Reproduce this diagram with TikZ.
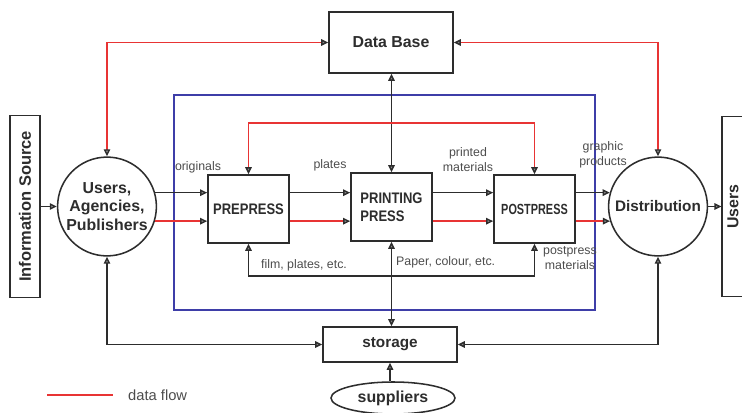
\documentclass[tikz,border=0pt]{standalone}
\usepackage{fontspec}
\setmainfont{Liberation Sans}
\newfontfamily\narrowsans[FakeStretch=0.85]{Liberation Sans}
\newfontfamily\narrowersans[FakeStretch=0.74]{Liberation Sans}
\usetikzlibrary{arrows.meta,shapes.geometric}
\definecolor{flowred}{RGB}{232,52,52}
\definecolor{frameblue}{RGB}{62,62,168}
\definecolor{ink}{RGB}{45,45,45}
\tikzset{
  hd/.tip={Triangle[length=6pt,width=5.5pt,color=ink,fill=ink!55]},
  box/.style={draw=ink, line width=1.3pt, fill=white, text=ink, inner sep=0pt, align=center},
  ring/.style={circle, draw=ink, line width=1.3pt, fill=white, text=ink, align=center,
    inner sep=0pt, minimum size=84pt},
  conn/.style={draw=ink, line width=1.2pt},
  dflow/.style={draw=flowred, line width=1.2pt},
  lbl/.style={text=ink!85, font=\fontsize{10.5}{12.8}\selectfont, align=center, inner sep=0pt},
}
\begin{document}
\begin{tikzpicture}[x=0.85pt,y=-0.85pt]
\useasboundingbox (0,0) rectangle (742,413);

% process frame
\draw[frameblue, line width=1.5pt] (174,95) rectangle (595,310);

% nodes
\node[box, minimum width=105.4pt, minimum height=51.9pt,
      font=\bfseries\fontsize{13.5}{15}\selectfont] (db) at (391,42.5) {Data Base};
\node[box, rotate=90, minimum width=154.7pt, minimum height=25.5pt,
      font=\bfseries\fontsize{14}{16}\selectfont] (info) at (25,206.5) {Information Source};
\node[ring, font=\bfseries\fontsize{13.5}{16}\selectfont] (users) at (107,206.5)
      {Users,\\Agencies,\\Publishers};
\node[box, minimum width=68.9pt, minimum height=57.8pt,
      font=\narrowsans\bfseries\fontsize{13}{15.3}\selectfont] (pre) at (248.5,209) {PREPRESS};
\node[box, minimum width=68.9pt, minimum height=57.8pt, align=left,
      font=\narrowsans\bfseries\fontsize{13}{15.3}\selectfont] (print) at (391.5,207) {PRINTING\\PRESS};
\node[box, minimum width=68.9pt, minimum height=57.8pt,
      font=\narrowersans\bfseries\fontsize{12.5}{15}\selectfont] (post) at (534.5,209) {POSTPRESS};
\node[ring, font=\bfseries\fontsize{13}{15}\selectfont] (dist) at (658,206.5) {Distribution};
% end users box runs past the right edge; its label sits near the left side
\node[box, rotate=90, minimum width=153pt, minimum height=32pt] (ubox) at (741,206.5) {};
\node[rotate=90, text=ink, inner sep=0pt,
      font=\bfseries\fontsize{13.5}{16}\selectfont] (utext) at (733,206.5) {Users};
\node[box, minimum width=113.9pt, minimum height=29.75pt,
      font=\bfseries\fontsize{13}{15}\selectfont] (store) at (390,344.5) {storage};
\node[ellipse, draw=ink, line width=1.3pt, fill=white, text=ink, inner sep=0pt,
      minimum width=105.4pt, minimum height=27.2pt,
      font=\bfseries\fontsize{13.5}{15}\selectfont] (supp) at (393,398) {suppliers};

% rails for the loops above and below the process boxes
\coordinate (toprail) at (0,123);
\coordinate (botrail) at (0,276);

% main material flow
\draw[conn,-hd] (info.south) -- (users.west);
\draw[conn,-hd] (users.16) -- (users.16 -| pre.west);
\draw[conn,-hd] (pre.east |- users.16) -- (print.west |- users.16);
\draw[conn,-hd] (print.east |- users.16) -- (post.west |- users.16);
\draw[conn,-hd] (post.east |- dist.164) -- (dist.164);
\draw[conn,-hd] (dist.east) -- (ubox.north);

% data flow alongside
\draw[dflow,-hd] (users.-17) -- (users.-17 -| pre.west);
\draw[dflow,-hd] (pre.east |- users.-17) -- (print.west |- users.-17);
\draw[dflow,-hd] (print.east |- users.-17) -- (post.west |- users.-17);
\draw[dflow,-hd] (post.east |- dist.-163) -- (dist.-163);

% data base links
\draw[dflow,hd-hd] (users.north) |- (db.west);
\draw[dflow,hd-hd] (dist.north) |- (db.east);
\draw[conn,hd-hd] (print.north) -- (print.north |- db.south);
\draw[dflow,hd-hd] (pre.north) -- (pre.north |- toprail) -- (post.north |- toprail) -- (post.north);

% supplies loop and storage links
\draw[conn,hd-hd] (pre.south) -- (pre.south |- botrail) -- (post.south |- botrail) -- (post.south);
\draw[conn,hd-hd] (print.south) -- (print.south |- store.north);
\draw[conn,hd-hd] (users.south) |- (store.west);
\draw[conn,hd-hd] (dist.south) |- (store.east);
\draw[conn,hd-] (store.south) -- (store.south |- supp.north);

% connector labels
\node[lbl] (l1) at (198,167) {originals};
\node[lbl] (l2) at (330,165) {plates};
\node[lbl] (l3) at (468,160) {printed\\materials};
\node[lbl] (l4) at (603,155) {graphic\\products};
\node[lbl] (l5) at (304,265) {film, plates, etc.};
\node[lbl, anchor=west] (l6) at (396,262) {Paper, colour, etc.};
\node[lbl] (l7) at (570,258) {postpress\\materials};

% legend
\coordinate (legA) at (47,395);
\coordinate (legB) at (113,395);
\draw[dflow] (legA) -- (legB);
\node[lbl, anchor=west, font=\fontsize{12.5}{14}\selectfont] (legtxt) at (128,395) {data flow};
\end{tikzpicture}
\end{document}
